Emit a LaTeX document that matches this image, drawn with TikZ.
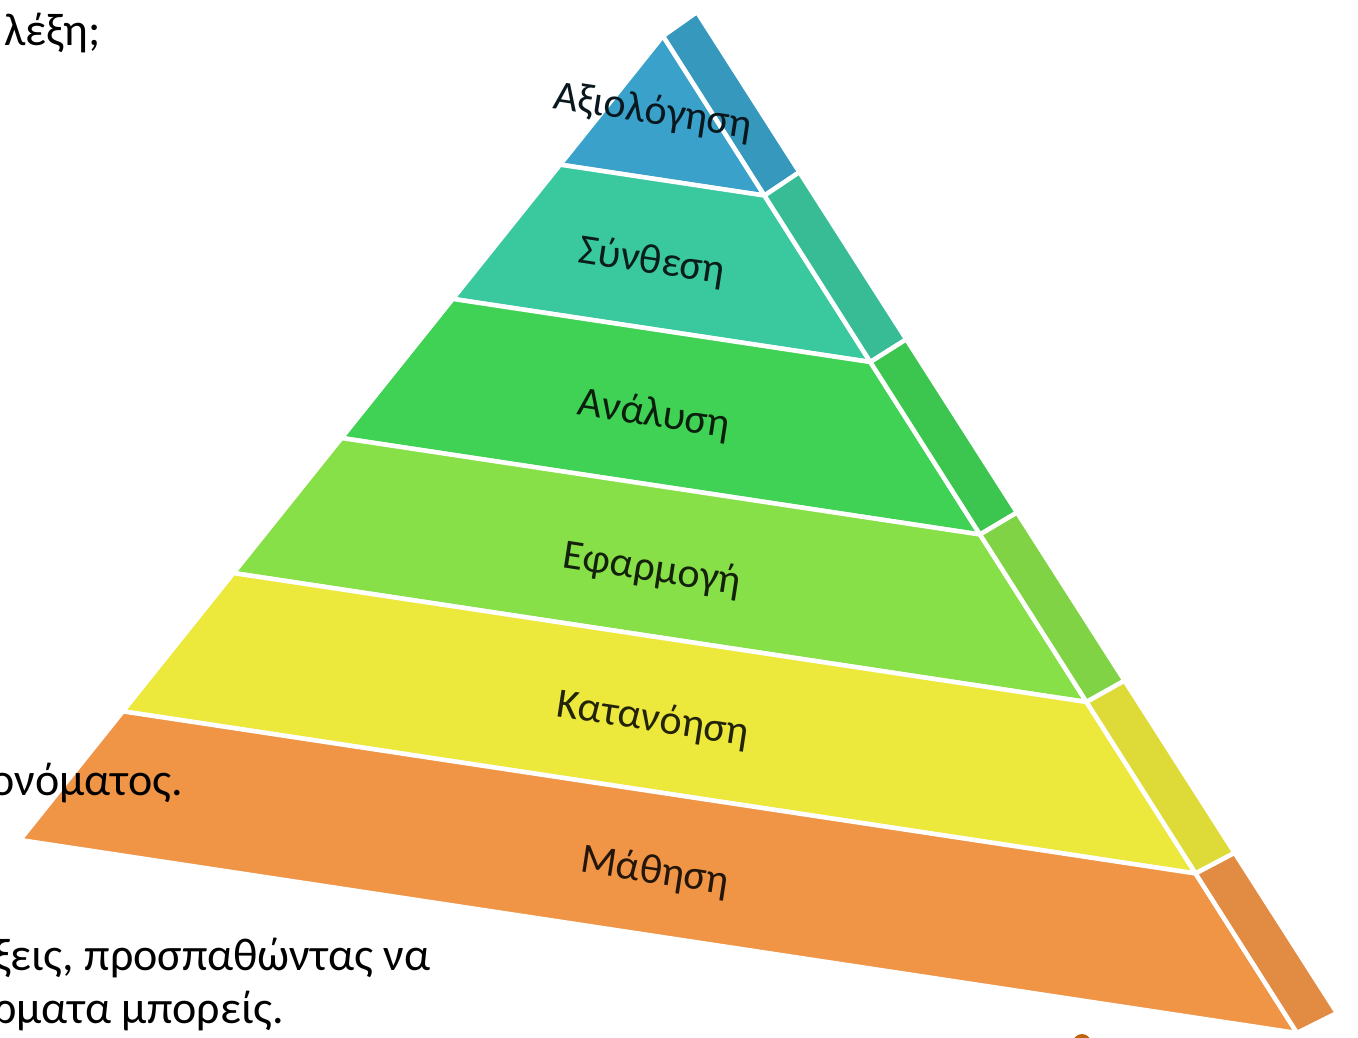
\documentclass[tikz,border=0pt]{standalone}
\usepackage{fontspec}
\setmainfont{Carlito}
\usetikzlibrary{calc}

\definecolor{cEval}{RGB}{58,162,202}
\definecolor{cSynth}{RGB}{58,200,158}
\definecolor{cAnal}{RGB}{64,210,84}
\definecolor{cAppl}{RGB}{136,224,72}
\definecolor{cComp}{RGB}{236,232,60}
\definecolor{cLearn}{RGB}{240,148,70}
\definecolor{cDot}{RGB}{190,98,14}

\tikzset{every picture/.style={line width=0.75pt},
  layer/.style={draw=white, line width=4.5pt, line join=round},
  layerlabel/.style={inner sep=0.75pt, rotate=-8.7, font=\fontsize{42}{50}\selectfont},
  bodytext/.style={anchor=base west, inner sep=0pt, font=\fontsize{46}{55}\selectfont}}

\begin{document}
\begin{tikzpicture}[x=1pt,y=1pt,yscale=-1,xscale=1]
\useasboundingbox (0,0) rectangle (1358,1038);
\clip (0,0) rectangle (1358,1038);

% corners of the pyramid
\coordinate (apex) at (663,36);
\coordinate (baseL) at (20,840);
\coordinate (baseR) at (1297,1033);
\coordinate (sideT) at (697,12);
\coordinate (sideB) at (1337,1013);

%Shape: layers, front and side face
\foreach \ta/\tb/\col in {0/0.16/cEval, 0.16/0.327/cSynth, 0.327/0.5/cAnal, 0.5/0.668/cAppl, 0.668/0.84/cComp, 0.84/1/cLearn} {
  \filldraw [layer, fill=\col] ($(apex)!\ta!(baseL)$) -- ($(apex)!\tb!(baseL)$) -- ($(apex)!\tb!(baseR)$) -- ($(apex)!\ta!(baseR)$) -- cycle ;
  \filldraw [layer, fill=\col!94!black] ($(apex)!\ta!(baseR)$) -- ($(apex)!\tb!(baseR)$) -- ($(sideT)!\tb!(sideB)$) -- ($(sideT)!\ta!(sideB)$) -- cycle ;
}

%Shape: Circle
\fill [cDot] (1082,1043) circle (9) ;

% Text Node
\draw (653,112) node [layerlabel, text=cEval!15!black] (lEval) {Αξιολόγηση};
% Text Node
\draw (652,262) node [layerlabel, text=cSynth!15!black] (lSynth) {Σύνθεση};
% Text Node
\draw (654,415) node [layerlabel, text=cAnal!15!black] (lAnal) {Ανάλυση};
% Text Node
\draw (652,570) node [layerlabel, text=cAppl!15!black] (lAppl) {Εφαρμογή};
% Text Node
\draw (653,720) node [layerlabel, text=cComp!15!black] (lComp) {Κατανόηση};
% Text Node
\draw (655,872) node [layerlabel, text=cLearn!15!black] (lLearn) {Μάθηση};

% Text Node
\draw (4,46) node [bodytext] (tWord) {λέξη;};
% Text Node
\draw (-10,795) node [bodytext] (tName) {ονόματος.};
% Text Node
\draw (-7,970) node [bodytext] (tTry) {ξεις, προσπαθώντας να};
% Text Node
\draw (-7,1023) node [bodytext] (tCan) {ρματα μπορείς.};

\end{tikzpicture}
\end{document}
